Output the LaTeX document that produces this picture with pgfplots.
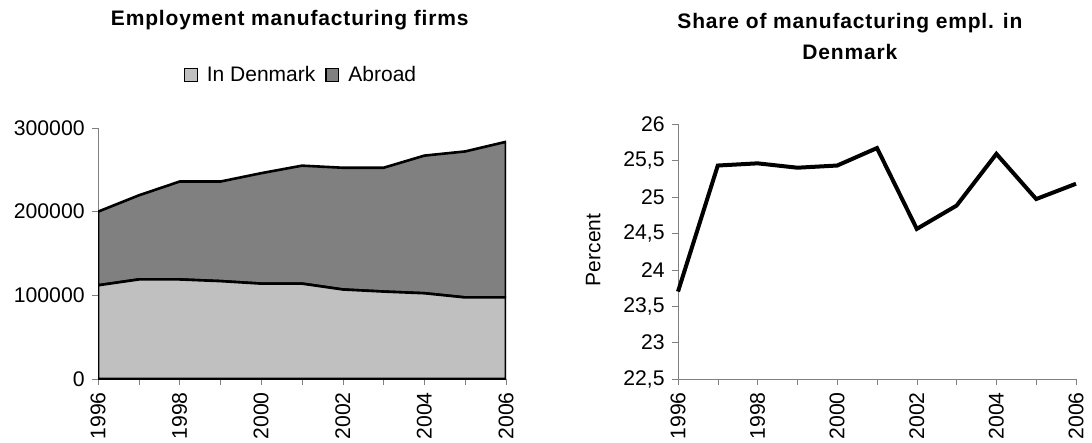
\documentclass[border=0pt]{standalone}
\usepackage{fontspec}
\setmainfont{Liberation Sans}
\usepackage{pgfplots}
\pgfplotsset{compat=1.18}
\definecolor{lightarea}{HTML}{C0C0C0}
\definecolor{darkarea}{HTML}{808080}
\definecolor{axisgray}{HTML}{808080}

\begin{document}
\fontsize{10.5pt}{12.6pt}\selectfont
\begin{tikzpicture}
\useasboundingbox (0,0) rectangle (546pt,221.5pt);
\pgfplotsset{
  every axis title shift=0pt,
  common/.style={
    scale only axis,
    anchor=south west,
    axis x line*=bottom,
    axis y line*=left,
    tick align=outside,
    major tick length=3pt,
    xmin=1996, xmax=2006,
    xtick={1996,1997,...,2006},
    xticklabels={1996,,1998,,2000,,2002,,2004,,2006},
    x tick label style={rotate=90, anchor=east},
    tick label style={font=\fontsize{10.6pt}{12.6pt}\selectfont},
    /pgf/number format/.cd, fixed, assume math mode=true, use comma, 1000 sep={},
    /pgfplots/.cd,
    title style={font=\bfseries\fontsize{10.5pt}{15.5pt}\selectfont\addfontfeature{LetterSpace=4},
      align=center, anchor=center},
  }
}

% left: stacked area
\begin{axis}[common,
  at={(49pt,32pt)},
  width=204pt, height=125.5pt,
  ymin=0, ymax=300000,
  ytick={0,100000,200000,300000},
  scaled y ticks=false,
  y axis line style={axisgray},
  stack plots=y,
  title={Employment manufacturing firms},
  title style={at={(0.47,1.43)}},
  legend style={at={(0.5,1.211)}, anchor=center, draw=none, fill=none,
    legend columns=2, font=\fontsize{10.5pt}{12.6pt}\selectfont,
    /tikz/every odd column/.append style={column sep=2.5pt},
    /tikz/every even column/.append style={column sep=3pt}},
  legend image code/.code={\draw[#1, draw=black, line width=0.6pt] (0pt,-3.2pt) rectangle (6.4pt,3.2pt);},
]
\addplot[fill=lightarea, draw=black, line width=1.3pt] coordinates {
(1996,112000) (1997,119000) (1998,119000) (1999,117000) (2000,114000) (2001,114000)
(2002,107000) (2003,104500) (2004,102500) (2005,97500) (2006,97500)
} \closedcycle;
\addplot[fill=darkarea, draw=black, line width=1.3pt] coordinates {
(1996,88000) (1997,100500) (1998,117000) (1999,119000) (2000,132000) (2001,141000)
(2002,145500) (2003,148000) (2004,164500) (2005,174500) (2006,186000)
} \closedcycle;
\legend{In Denmark, Abroad}
\end{axis}

% right: share line
\begin{axis}[common,
  at={(339pt,32pt)},
  width=199pt, height=127.5pt,
  ymin=22.5, ymax=26,
  ytick={22.5,23,23.5,24,24.5,25,25.5,26},
  axis line style={axisgray},
  title={Share of manufacturing empl. in\\Denmark},
  title style={at={(0.432,1.345)}},
  ylabel={Percent},
  ylabel style={font=\fontsize{10.5pt}{12.6pt}\selectfont},
  every axis y label/.style={at={(-0.213,0.506)}, rotate=90, anchor=center},
  clip=false,
]
\addplot[black, line width=2pt] coordinates {
(1996,23.70) (1997,25.43) (1998,25.46) (1999,25.40) (2000,25.43) (2001,25.67)
(2002,24.56) (2003,24.88) (2004,25.59) (2005,24.97) (2006,25.18)
};
\end{axis}
\end{tikzpicture}
\end{document}
